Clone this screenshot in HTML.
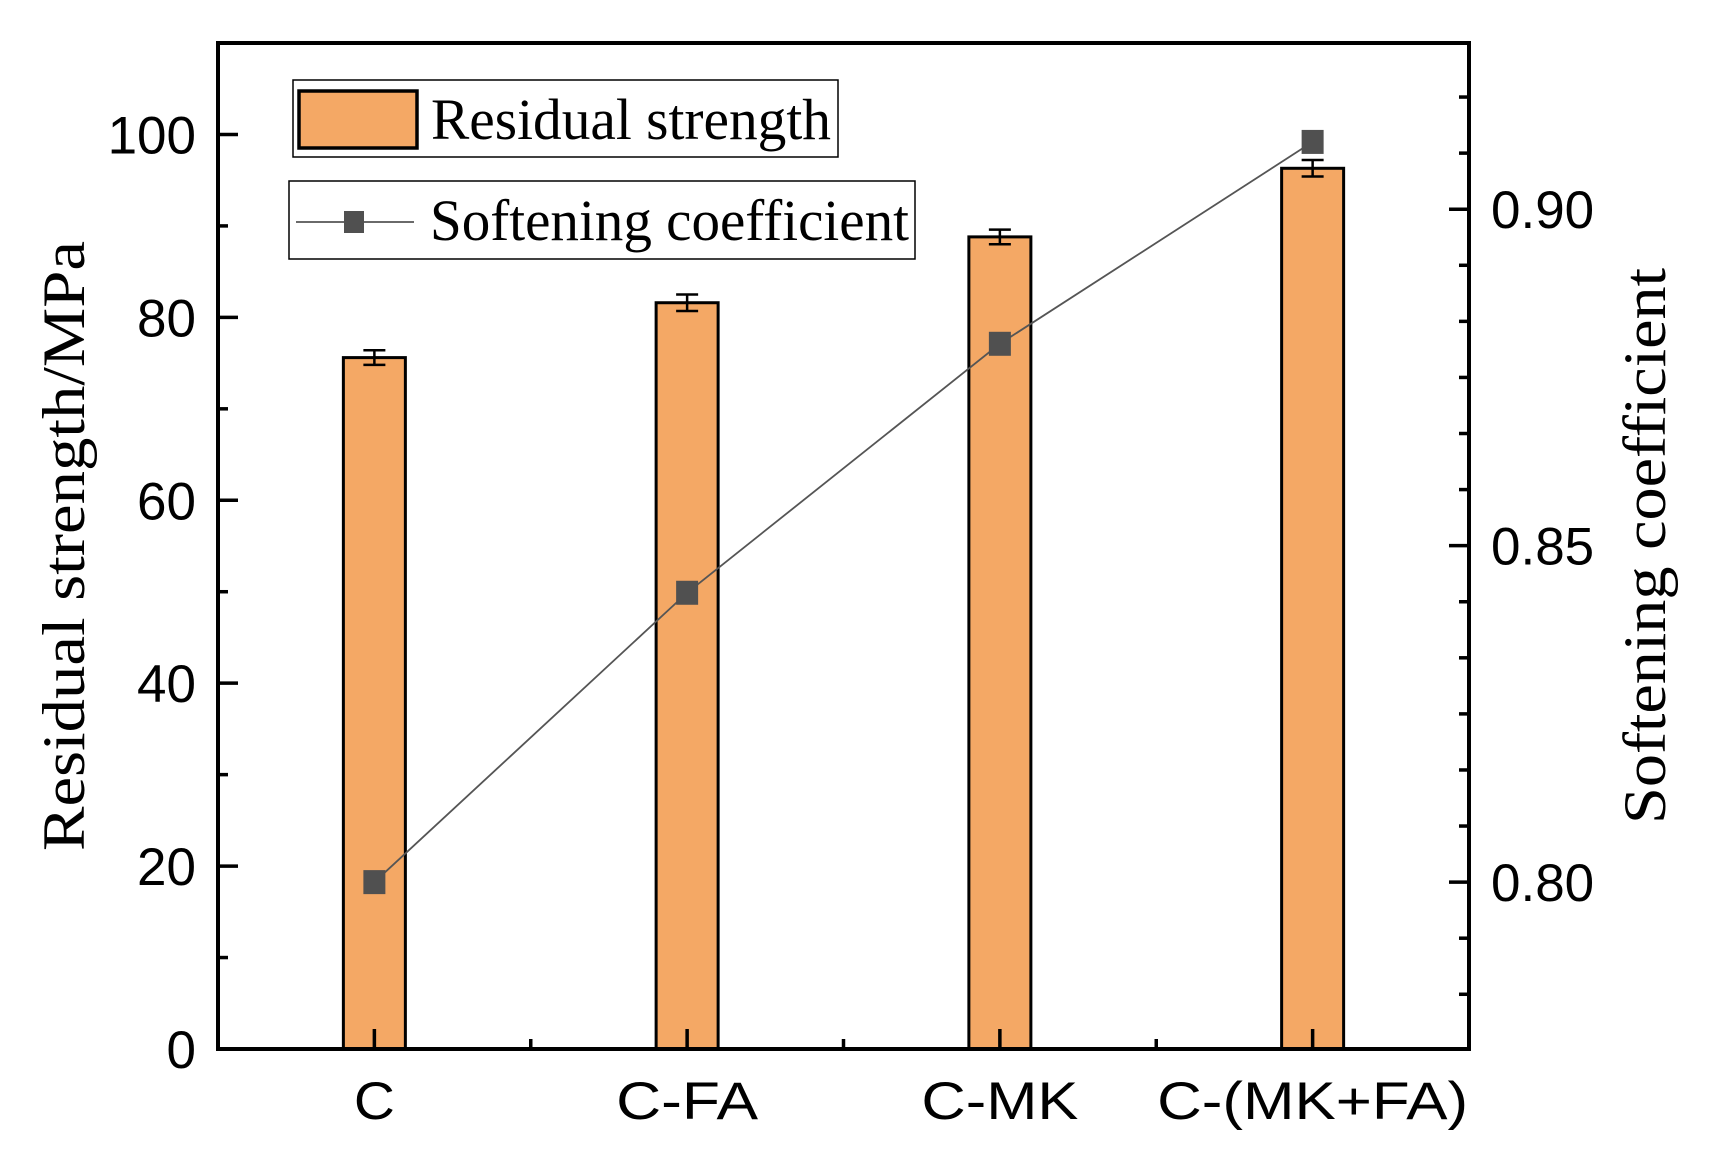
<!DOCTYPE html>
<html><head><meta charset="utf-8"><style>
html,body{margin:0;padding:0;background:#fff;}
svg{display:block;}
.tk{font-family:"Liberation Sans",Arial,sans-serif;font-size:53px;fill:#000;}
.sf{font-family:"Liberation Serif","Times New Roman",serif;fill:#000;}
</style></head><body>
<svg id="chart" width="1721" height="1164" viewBox="0 0 1721 1164" xmlns="http://www.w3.org/2000/svg">
<g id="marks"></g>
<g id="axes"></g>
</svg>
<script>
const categories = ["C","C-FA","C-MK","C-(MK+FA)"];
const strength = [75.6, 81.6, 88.8, 96.3];
const strengthErr = [0.8, 0.9, 0.8, 0.9];
const softening = [0.800, 0.843, 0.880, 0.910];
const leftTicks = [0,20,40,60,80,100];
const rightTicks = [0.80,0.85,0.90];
const rightTickLabels = ["0.80","0.85","0.90"];
const catLabelWidths = [41,142,157,311];

const NS="http://www.w3.org/2000/svg";
const X0=218,X1=1469,Y0=1049,Y1=43;
const LMIN=0,LMAX=110;
const RMIN=0.7752,RMAX=0.9247;
const yL=v=>Y0-(v-LMIN)/(LMAX-LMIN)*(Y0-Y1);
const yR=v=>Y0-(v-RMIN)/(RMAX-RMIN)*(Y0-Y1);
const band=(X1-X0)/categories.length;
const xC=i=>X0+band*(i+0.5);
function el(tag,attrs,parent,text){const e=document.createElementNS(NS,tag);for(const k in attrs)e.setAttribute(k,attrs[k]);if(text!==undefined)e.textContent=text;parent.appendChild(e);return e;}
const marks=document.getElementById('marks'),axes=document.getElementById('axes');
const BW=62;
categories.forEach((c,i)=>{
  const b=el('rect',{x:xC(i)-BW/2,y:yL(strength[i]),width:BW,height:Y0-yL(strength[i]),fill:'#f4a865',stroke:'#000','stroke-width':3},marks);
  
  
  const g=el('g',{stroke:'#000','stroke-width':2.5},marks);
  
  
  const t=yL(strength[i]+strengthErr[i]),bt=yL(strength[i]-strengthErr[i]);
  el('line',{x1:xC(i),x2:xC(i),y1:t,y2:bt},g);
  el('line',{x1:xC(i)-11,x2:xC(i)+11,y1:t,y2:t},g);
  el('line',{x1:xC(i)-11,x2:xC(i)+11,y1:bt,y2:bt},g);
});
const pts=softening.map((v,i)=>xC(i)+','+yR(v)).join(' ');
const ln=el('polyline',{points:pts,fill:'none',stroke:'#555','stroke-width':1.8},marks);


softening.forEach((v,i)=>{
  const m=el('rect',{x:xC(i)-11,y:yR(v)-12,width:22,height:24,fill:'#505050'},marks);
  
  
});
const fr=el('rect',{x:X0,y:Y1,width:X1-X0,height:Y0-Y1,fill:'none',stroke:'#000','stroke-width':4},axes);


for(let v=0;v<=LMAX;v+=10){
  const major=leftTicks.includes(v);
  el('line',{x1:X0,x2:X0+(major?20:10),y1:yL(v),y2:yL(v),stroke:'#000','stroke-width':3.5},axes);
}
leftTicks.forEach(v=>{
  const t=el('text',{x:196,y:yL(v)+19,'text-anchor':'end',class:'tk'},axes,String(v));
  
  
});
const step=0.05/6;
for(let k=-20;k<=20;k++){
  const v=0.80+k*step; if(v<RMIN||v>RMAX)continue;
  const major=(k%6===0);
  el('line',{x1:X1,x2:X1-(major?20:10),y1:yR(v),y2:yR(v),stroke:'#000','stroke-width':3.5},axes);
}
rightTicks.forEach((v,i)=>{
  const t=el('text',{x:1491,y:yR(v)+19,class:'tk'},axes,rightTickLabels[i]);
  
  
});
categories.forEach((c,i)=>{
  el('line',{x1:xC(i),x2:xC(i),y1:Y0,y2:Y0-20,stroke:'#000','stroke-width':3.5},axes);
  if(i>0) el('line',{x1:X0+band*i,x2:X0+band*i,y1:Y0,y2:Y0-10,stroke:'#000','stroke-width':3.5},axes);
  const t=el('text',{x:xC(i),y:1119,'text-anchor':'middle',class:'tk','font-size':'58',textLength:catLabelWidths[i],lengthAdjust:'spacingAndGlyphs'},axes,c);
  
  
});
</script>
<svg style="position:absolute;left:0;top:0" width="1721" height="1164" xmlns="http://www.w3.org/2000/svg">
<text class="sf" font-size="60" transform="translate(84,546) rotate(-90)" text-anchor="middle" textLength="610" lengthAdjust="spacingAndGlyphs">Residual strength/MPa</text>
<text class="sf" font-size="60" transform="translate(1665,546) rotate(-90)" text-anchor="middle" textLength="556" lengthAdjust="spacingAndGlyphs">Softening coefficient</text>
<g>
<rect x="293" y="80" width="545" height="77" fill="#fff" stroke="#000" stroke-width="1.5"/>
<rect x="299" y="91" width="118" height="57" fill="#f4a865" stroke="#000" stroke-width="3.5"/>
<text class="sf" x="431" y="139" font-size="58" textLength="400" lengthAdjust="spacingAndGlyphs">Residual strength</text>
</g>
<g>
<rect x="289" y="181" width="626" height="78" fill="#fff" stroke="#000" stroke-width="1.5"/>
<line x1="296" y1="222" x2="414" y2="222" stroke="#555" stroke-width="1.8"/>
<rect x="344" y="211" width="20" height="22" fill="#505050"/>
<text class="sf" x="430" y="240" font-size="58" textLength="479" lengthAdjust="spacingAndGlyphs">Softening coefficient</text>
</g>
</svg>
</body></html>
